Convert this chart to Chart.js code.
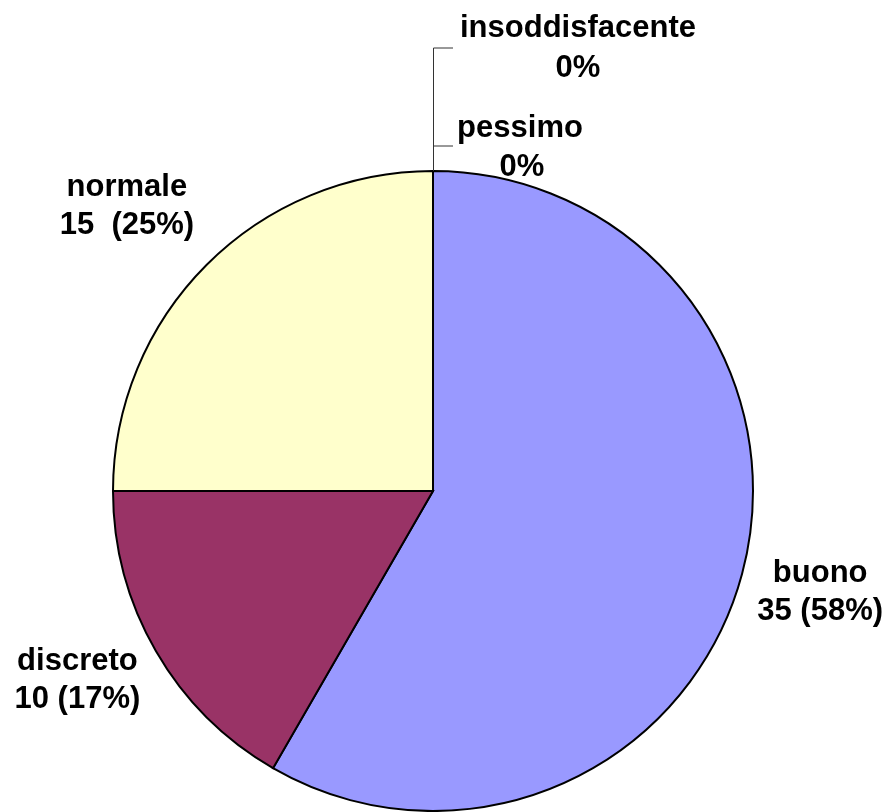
<!DOCTYPE html>
<html>
<head>
<meta charset="utf-8">
<script src="https://cdn.jsdelivr.net/npm/chart.js@4/dist/chart.umd.min.js"></script>
<style>
  html, body { margin: 0; padding: 0; background: #fff; }
  #wrap { width: 895px; height: 812px; }
</style>
</head>
<body>
<div id="wrap"><canvas id="pie"></canvas></div>
<script>
"use strict";

// Data
const LABELS = ["buono", "discreto", "normale", "pessimo", "insoddisfacente"];
const VALUES = [35, 10, 15, 0, 0];
const COLORS = ["#9999FF", "#993366", "#FFFFCC", "#FFFFFF", "#FFFFFF"];

const FONT = "bold 31px 'Liberation Sans', Arial, sans-serif";
const LINE_GAP = 38;
// small hand nudges so the labels sit where excel put them
const NUDGE = [[-5, 5], [-4, -5], [-19, 11]];

function labelLines(i, total) {
    let pct = Math.round(VALUES[i] / total * 100) + "%";
    if (VALUES[i] === 0) {
        return [LABELS[i], pct];
    }
    // normale has the double space in the original
    let sep = LABELS[i] === "normale" ? "  " : " ";
    return [LABELS[i], VALUES[i] + sep + "(" + pct + ")"];
}

// Labels outside the pie, plus leader lines for the empty slices
const outsideLabels = {
    id: "outsideLabels",
    afterDraw(chart) {
        let ctx = chart.ctx;
        let meta = chart.getDatasetMeta(0);
        let total = VALUES.reduce((a, b) => a + b, 0);
        ctx.save();
        ctx.font = FONT;
        ctx.fillStyle = "#000";
        ctx.textAlign = "center";
        ctx.textBaseline = "alphabetic";

        meta.data.forEach(function(arc, i) {
            if (VALUES[i] > 0) {
                let lines = labelLines(i, total);
                let mid = (arc.startAngle + arc.endAngle) / 2;
                let dist = arc.outerRadius + 86;
                let x = arc.x + Math.cos(mid) * dist + NUDGE[i][0];
                let y = arc.y + Math.sin(mid) * dist + NUDGE[i][1];
                ctx.fillText(lines[0], x, y - LINE_GAP / 2);
                ctx.fillText(lines[1], x, y + LINE_GAP / 2);
            }
        });

        // empty slices sit at the top of the pie
        let top = meta.data[3];
        let topY = top.y - top.outerRadius;
        ctx.strokeStyle = "#333";
        ctx.lineWidth = 1;
        ctx.beginPath();
        ctx.moveTo(top.x + 0.5, topY);
        ctx.lineTo(top.x + 0.5, topY - 123);
        ctx.lineTo(top.x + 20, topY - 123);
        ctx.moveTo(top.x + 0.5, topY - 25);
        ctx.lineTo(top.x + 20, topY - 25);
        ctx.stroke();

        let p = labelLines(3, total);
        ctx.fillText(p[0], top.x + 87, topY - 34);
        ctx.fillText(p[1], top.x + 89, topY + 5);

        let q = labelLines(4, total);
        ctx.fillText(q[0], top.x + 145, topY - 134);
        ctx.fillText(q[1], top.x + 145, topY - 94);
        ctx.restore();
    }
};

let ctx_pie = document.getElementById("pie").getContext("2d");
let pieChart = new Chart(ctx_pie, {
    type: "pie",
    data: {
        labels: LABELS,
        datasets: [{
            data: VALUES,
            backgroundColor: COLORS,
            borderColor: "#000",
            borderWidth: 2,
            borderJoinStyle: "miter"
        }]
    },
    options: {
        responsive: true,
        maintainAspectRatio: false,
        animation: false,
        layout: {
            padding: { left: 111, right: 140, top: 170, bottom: 0 }
        },
        plugins: {
            legend: { display: false },
            tooltip: { enabled: false }
        }
    },
    plugins: [outsideLabels]
});
</script>
</body>
</html>
